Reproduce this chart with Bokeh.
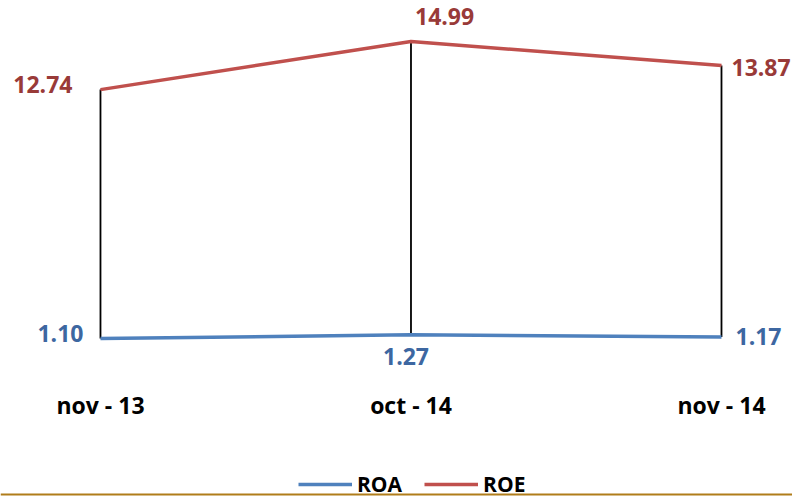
from bokeh.plotting import figure
from bokeh.models import Range1d, Legend, LegendItem, Span, ColumnDataSource
from bokeh.core.properties import value
from bokeh.embed import file_html
from bokeh.resources import INLINE

categories = ["nov - 13", "oct - 14", "nov - 14"]
roa = [1.10, 1.27, 1.17]
roe = [12.74, 14.99, 13.87]

xs = list(range(len(categories)))

FONT = "Open Sans"
RED_LINE = "#C0504D"
RED_TEXT = "#993A38"
BLUE_LINE = "#4F81BD"
BLUE_TEXT = "#3D67A1"

p = figure(width=792, height=498, output_backend="svg", toolbar_location=None,
           x_range=Range1d(-0.322, 2.2287), y_range=Range1d(-6.385, 16.908),
           min_border=0, min_border_left=0, min_border_right=0,
           min_border_top=0, min_border_bottom=0)
p.axis.visible = False
p.grid.visible = False
p.outline_line_color = None
p.background_fill_color = "white"
p.border_fill_color = "white"

# high-low drop lines
p.segment(x0=xs, y0=roa, x1=xs, y1=roe, line_color="black", line_width=1.8)

r_roa = p.line(xs, roa, line_color=BLUE_LINE, line_width=3.5)
r_roe = p.line(xs, roe, line_color=RED_LINE, line_width=3.5)

# data labels
roe_src = ColumnDataSource(dict(x=xs, y=roe, t=[f"{v:.2f}" for v in roe],
                                align=["right", "left", "left"],
                                dx=[-28, 4, 10], dy=[-5, -25, 2]))
roa_src = ColumnDataSource(dict(x=xs, y=roa, t=[f"{v:.2f}" for v in roa],
                                align=["right", "center", "left"],
                                dx=[-17, -5, 14], dy=[-5, 22, 0]))
for src, col in ((roe_src, RED_TEXT), (roa_src, BLUE_TEXT)):
    p.text(x="x", y="y", text="t", source=src, text_align="align",
           text_baseline="middle", x_offset="dx", y_offset="dy",
           text_color=col, text_font=value(FONT), text_font_style="bold",
           text_font_size="23px")

# category labels (axis labels)
AXIS_LABEL_Y = -2.03
p.text(x=xs, y=[AXIS_LABEL_Y] * len(xs), text=categories, text_align="center",
       text_baseline="middle", text_color="black", text_font=value(FONT),
       text_font_style="bold", text_font_size="23px")

# bottom rule
p.add_layout(Span(location=-6.2, dimension="width", line_color="#B07D1A", line_width=2))

legend = Legend(items=[LegendItem(label="ROA", renderers=[r_roa]),
                       LegendItem(label="ROE", renderers=[r_roe])],
                location=(298, 0), orientation="horizontal",
                label_text_font=FONT, label_text_font_style="bold",
                label_text_font_size="21px", label_text_color="black",
                glyph_width=54, glyph_height=20, label_standoff=5, spacing=22,
                padding=0, margin=0, border_line_color=None,
                background_fill_alpha=0)
p.add_layout(legend)

open("out.html", "w").write(file_html(p, INLINE))
